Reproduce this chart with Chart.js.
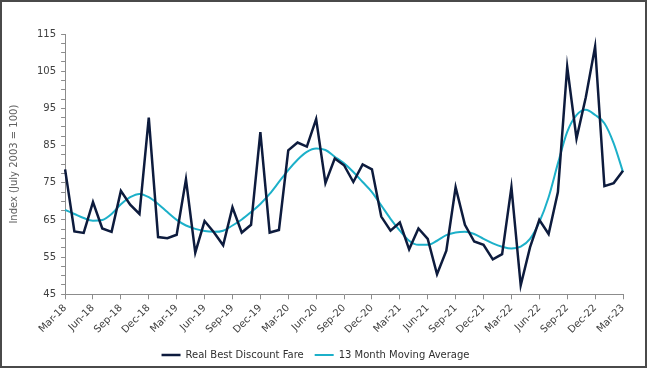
<!DOCTYPE html>
<html>
<head>
<meta charset="utf-8">
<script src="https://cdn.jsdelivr.net/npm/chart.js@4"></script>
<style>
  html, body { margin: 0; padding: 0; background: #fff; }
  #wrap {
    width: 647px; height: 368px; box-sizing: border-box;
    border: 2px solid #4a4a4a; position: relative;
  }
</style>
</head>
<body>
<div id="wrap"><canvas id="chart" width="643" height="364"></canvas></div>
<script>
// months Mar-18 .. Mar-23
const months = ["Jan", "Feb", "Mar", "Apr", "May", "Jun", "Jul", "Aug", "Sep", "Oct", "Nov", "Dec"];
const labels = [];
for (let i = 0; i <= 60; i++) {
  const m = (2 + i) % 12;
  const y = 18 + Math.floor((2 + i) / 12);
  labels.push(months[m] + "-" + y);
}

const fareValues = [
  78.6, 61.9, 61.5, 69.8, 62.7, 61.8, 72.8, 69.1, 66.6, 92.5, 60.4, 60.1,
  61.0, 75.9, 56.2, 64.7, 61.7, 58.2, 68.4, 61.6, 63.7, 88.6, 61.6, 62.3,
  83.7, 85.8, 84.7, 92.1, 74.9, 81.5, 79.7, 75.2, 79.9, 78.6, 65.9, 62.1,
  64.3, 57.1, 62.7, 59.9, 50.4, 56.7, 73.8, 63.7, 59.2, 58.3, 54.4, 55.8,
  73.8, 47.4, 57.6, 65.0, 61.2, 72.5, 106.2, 86.9, 98.0, 111.6, 74.1, 74.9,
  78.2
];

const avgValues = [
  67.7, 66.6, 65.5, 64.8, 65.0, 66.6, 69.2, 71.1, 72.0, 71.1, 69.3, 67.1,
  65.0, 63.5, 62.6, 62.0, 61.8, 62.1, 63.5, 65.1, 67.1, 69.3, 72.0, 75.2,
  78.4, 81.2, 83.3, 84.2, 83.8, 82.0, 80.2, 77.9, 75.2, 72.5, 68.9, 65.3,
  62.1, 59.4, 58.3, 58.3, 59.4, 60.9, 61.6, 61.8, 61.2, 59.9, 58.7, 57.8,
  57.3, 57.8, 59.9, 64.4, 71.1, 80.2, 88.7, 93.2, 94.6, 93.2, 91.0, 85.6,
  77.9
];

const seriesNames = ["Real Best Discount Fare", "13 Month Moving Average"];

const axisGrey = "#8c8c8c";
const textGrey = "#404040";

new Chart(document.getElementById("chart"), {
  type: "line",
  data: {
    labels,
    datasets: [
      {
        label: seriesNames[0],
        data: fareValues,
        borderColor: "#0d1b3d",
        backgroundColor: "#0d1b3d",
        borderWidth: 2.5,
        pointRadius: 0,
        tension: 0
      },
      {
        label: seriesNames[1],
        data: avgValues,
        borderColor: "#1cb0c9",
        backgroundColor: "#1cb0c9",
        borderWidth: 2,
        pointRadius: 0,
        cubicInterpolationMode: "monotone"
      }
    ]
  },
  options: {
    responsive: false,
    animation: false,
    layout: { padding: { top: 32, right: 22, left: 6, bottom: -4 } },
    scales: {
      x: {
        grid: {
          drawOnChartArea: false,
          tickLength: 5,
          color: (c) => (c.index % 3 === 0 ? axisGrey : "rgba(0,0,0,0)")
        },
        border: { color: axisGrey, width: 1 },
        ticks: {
          autoSkip: false,
          maxRotation: 45,
          minRotation: 45,
          color: textGrey,
          font: { family: "DejaVu Sans", size: 10 },
          padding: 3,
          callback: function (v, i) { return i % 3 === 0 ? this.getLabelForValue(v) : ""; }
        }
      },
      y: {
        min: 45,
        max: 115,
        grid: { drawOnChartArea: false, tickLength: 4, color: axisGrey },
        border: { color: axisGrey, width: 1 },
        ticks: {
          stepSize: 2.5,
          autoSkip: false,
          color: textGrey,
          font: { family: "DejaVu Sans", size: 10 },
          padding: 5,
          callback: (v) => ((v - 45) % 10 === 0 ? v : "")
        },
        title: {
          display: true,
          text: "Index (July 2003 = 100)",
          color: "#606060",
          font: { family: "DejaVu Sans", size: 10 },
          padding: { top: 0, bottom: 12 }
        }
      }
    },
    plugins: {
      legend: {
        position: "bottom",
        labels: {
          usePointStyle: true,
          pointStyle: "line",
          pointStyleWidth: 19,
          color: "#303030",
          font: { family: "DejaVu Sans", size: 10 },
          padding: 11
        }
      },
      tooltip: { enabled: false }
    }
  }
});
</script>
</body>
</html>
